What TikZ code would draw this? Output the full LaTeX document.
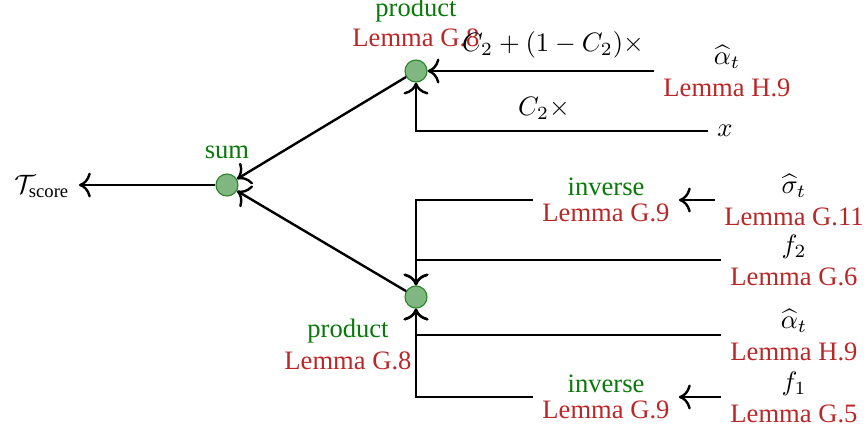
\documentclass[tikz,border=0pt]{standalone}
\usepackage{amsmath}
\usepackage{fontspec}
\setmainfont{Liberation Serif}
\usetikzlibrary{arrows.meta}
\definecolor{lblgreen}{RGB}{10,120,10}
\definecolor{lblred}{RGB}{185,40,40}
\definecolor{dotfill}{RGB}{128,182,128}
\definecolor{dotdraw}{RGB}{40,130,40}
\begin{document}
\begin{tikzpicture}[x=0.376pt,y=-0.376pt,
  dot/.style={circle,draw=dotdraw,fill=dotfill,minimum size=8.3pt,inner sep=0pt},
  conn/.style={line width=0.9pt,-{To[scale=1.25]}},
  op/.style={text=lblgreen},
  lemma/.style={text=lblred},
  src/.style={align=center}]
\useasboundingbox (0,0) rectangle (867,434);
% operation nodes
\node[dot] (sum) at (227,185) {};
\node[dot] (p1) at (416,71) {};
\node[dot] (p2) at (416,297) {};
\node[op] (sumlbl) at (227,152) {sum};
\node[op] (p1op) at (416,10) {product};
\node[lemma] (p1ref) at (416,38) {Lemma G.8};
\node[op] (p2op) at (348,331) {product};
\node[lemma] (p2ref) at (348,361) {Lemma G.8};
\node (T) at (42,186) {$\mathcal{T}_{\text{score}}$};
% sources
\node[src] (a1) at (727,71) {$\widehat{\alpha}_t$\\\textcolor{lblred}{Lemma H.9}};
\node (x) at (725,131) {$x$};
\node[src] (s) at (794,200) {$\widehat{\sigma}_t$\\\textcolor{lblred}{Lemma G.11}};
\node[src] (f2) at (794,260) {$f_2$\\\textcolor{lblred}{Lemma G.6}};
\node[src] (a2) at (794,335) {$\widehat{\alpha}_t$\\\textcolor{lblred}{Lemma H.9}};
\node[src] (f1) at (794,397) {$f_1$\\\textcolor{lblred}{Lemma G.5}};
% inverse nodes
\node[src] (inv1) at (606,200) {\textcolor{lblgreen}{inverse}\\[-2pt]\textcolor{lblred}{Lemma G.9}};
\node[src] (inv2) at (606,397) {\textcolor{lblgreen}{inverse}\\[-2pt]\textcolor{lblred}{Lemma G.9}};
% edge labels
\node (lab1) at (553,45) {$C_2+(1-C_2)\times$};
\node (lab2) at (544,108) {$C_2\times$};
% connectors
\draw[conn] (sum.west) -- (sum.west -| T.east);
\draw[conn] (p1) -- (sum);
\draw[conn] (p2) -- (sum);
\draw[conn] (a1.west) -- (p1.east);
\draw[conn] (x.west) -| (p1.south);
\draw[conn] (s.west) -- (inv1.east);
\draw[conn] (f1.west) -- (inv2.east);
\draw[conn] (inv1.west) -| (p2.north);
\draw[conn] (f2.west) -| (p2.north);
\draw[conn] (a2.west) -| (p2.south);
\draw[conn] (inv2.west) -| (p2.south);
\end{tikzpicture}
\end{document}
